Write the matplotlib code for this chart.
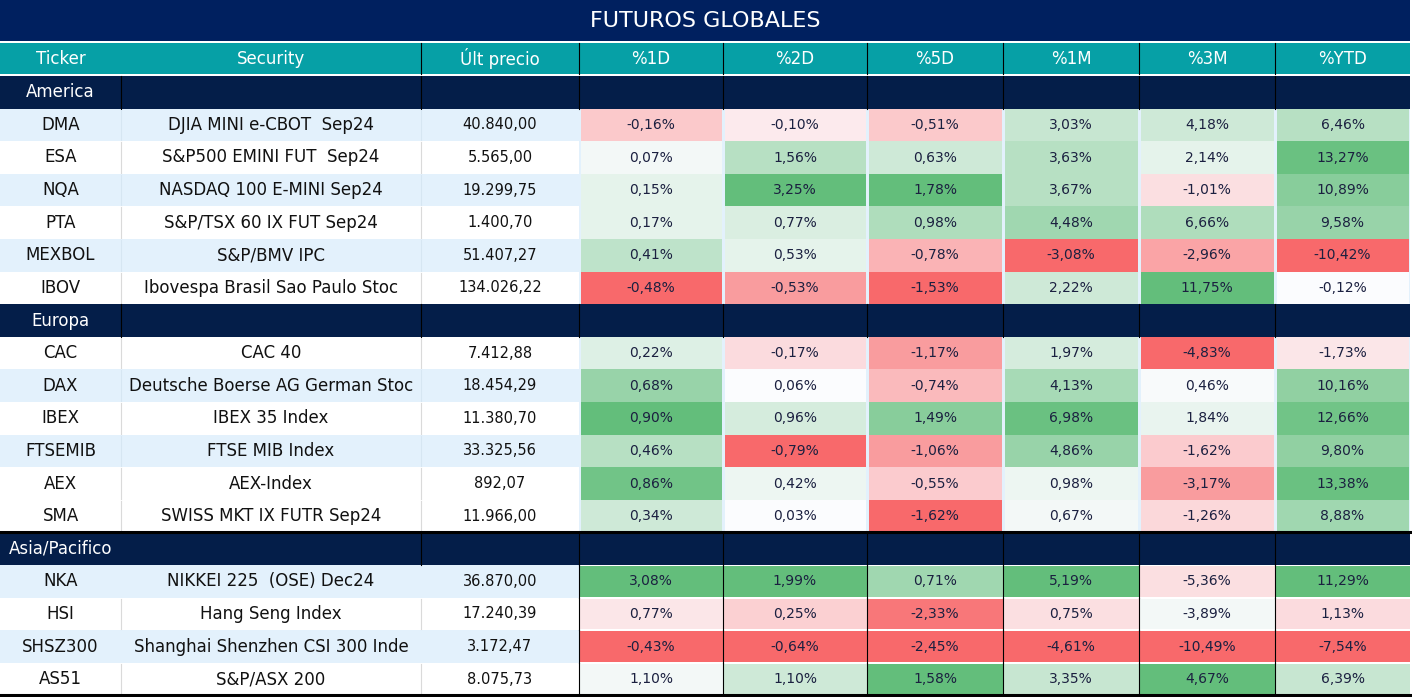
import matplotlib.pyplot as plt
from matplotlib.patches import Rectangle
from matplotlib.colors import LinearSegmentedColormap

# data
title = "FUTUROS GLOBALES"
headers = ["Ticker", "Security", "Últ precio", "%1D", "%2D", "%5D", "%1M", "%3M", "%YTD"]
regions = ["America", "Europa", "Asia/Pacifico"]
region_sizes = [6, 6, 4]
tickers = ["DMA", "ESA", "NQA", "PTA", "MEXBOL", "IBOV",
           "CAC", "DAX", "IBEX", "FTSEMIB", "AEX", "SMA",
           "NKA", "HSI", "SHSZ300", "AS51"]
securities = ["DJIA MINI e-CBOT  Sep24", "S&P500 EMINI FUT  Sep24", "NASDAQ 100 E-MINI Sep24",
              "S&P/TSX 60 IX FUT Sep24", "S&P/BMV IPC", "Ibovespa Brasil Sao Paulo Stoc",
              "CAC 40", "Deutsche Boerse AG German Stoc", "IBEX 35 Index", "FTSE MIB Index",
              "AEX-Index", "SWISS MKT IX FUTR Sep24",
              "NIKKEI 225  (OSE) Dec24", "Hang Seng Index", "Shanghai Shenzhen CSI 300 Inde",
              "S&P/ASX 200"]
prices = [40840.00, 5565.00, 19299.75, 1400.70, 51407.27, 134026.22,
          7412.88, 18454.29, 11380.70, 33325.56, 892.07, 11966.00,
          36870.00, 17240.39, 3172.47, 8075.73]
pct_1d = [-0.16, 0.07, 0.15, 0.17, 0.41, -0.48, 0.22, 0.68, 0.90, 0.46, 0.86, 0.34, 3.08, 0.77, -0.43, 1.10]
pct_2d = [-0.10, 1.56, 3.25, 0.77, 0.53, -0.53, -0.17, 0.06, 0.96, -0.79, 0.42, 0.03, 1.99, 0.25, -0.64, 1.10]
pct_5d = [-0.51, 0.63, 1.78, 0.98, -0.78, -1.53, -1.17, -0.74, 1.49, -1.06, -0.55, -1.62, 0.71, -2.33, -2.45, 1.58]
pct_1m = [3.03, 3.63, 3.67, 4.48, -3.08, 2.22, 1.97, 4.13, 6.98, 4.86, 0.98, 0.67, 5.19, 0.75, -4.61, 3.35]
pct_3m = [4.18, 2.14, -1.01, 6.66, -2.96, 11.75, -4.83, 0.46, 1.84, -1.62, -3.17, -1.26, -5.36, -3.89, -10.49, 4.67]
pct_ytd = [6.46, 13.27, 10.89, 9.58, -10.42, -0.12, -1.73, 10.16, 12.66, 9.80, 13.38, 8.88, 11.29, 1.13, -7.54, 6.39]
pct_cols = [pct_1d, pct_2d, pct_5d, pct_1m, pct_3m, pct_ytd]

# style: heat-map shade of each cell as shown (-1 red .. 0 white .. 1 green)
shade = [
    [-0.35, -0.12, -0.35, 0.35, 0.30, 0.45],
    [0.06, 0.45, 0.30, 0.45, 0.15, 0.95],
    [0.15, 1.00, 1.00, 0.45, -0.20, 0.75],
    [0.15, 0.22, 0.50, 0.60, 0.50, 0.65],
    [0.40, 0.15, -0.50, -1.00, -0.60, -1.00],
    [-1.00, -0.65, -1.00, 0.30, 1.00, 0.00],
    [0.20, -0.22, -0.65, 0.25, -1.00, -0.15],
    [0.65, 0.00, -0.45, 0.55, 0.03, 0.70],
    [1.00, 0.25, 0.75, 0.95, 0.12, 0.90],
    [0.45, -1.00, -0.65, 0.65, -0.33, 0.70],
    [0.90, 0.10, -0.33, 0.10, -0.65, 0.95],
    [0.30, 0.00, -1.00, 0.06, -0.25, 0.60],
    [1.00, 1.00, 0.60, 1.00, -0.20, 1.00],
    [-0.15, -0.30, -0.90, -0.20, 0.06, -0.22],
    [-1.00, -1.00, -1.00, -1.00, -1.00, -1.00],
    [0.06, 0.30, 1.00, 0.35, 1.00, 0.35],
]
blue_rows = [True, False, True, False, True, False,
             False, True, False, True, False, False,
             True, False, True, False]

heat = LinearSegmentedColormap.from_list("heat", ["#F8696B", "#FCFCFF", "#63BE7B"])
navy_title = "#00205F"
navy_sec = "#041E49"
teal = "#06A0A6"
light_blue = "#E3F1FC"
txt = "#1B2040"

edges = [0, 121, 421, 579, 723, 867, 1003, 1139, 1275, 1410]
W, H = 1412, 697
rh = 32.6
y_start = 76

def fmt_pct(v):
    return f"{v:.2f}".replace(".", ",") + "%"

def fmt_price(v):
    return f"{v:,.2f}".replace(",", "X").replace(".", ",").replace("X", ".")

fig = plt.figure(figsize=(W / 100, H / 100), dpi=100)
ax = fig.add_axes([0, 0, 1, 1])
ax.set_xlim(0, W)
ax.set_ylim(H, 0)
ax.axis("off")

# title + header
ax.add_patch(Rectangle((0, 0), edges[-1], 41, color=navy_title, lw=0))
ax.text(edges[-1] / 2, 21, title, color="white", fontsize=16, ha="center", va="center")
ax.add_patch(Rectangle((0, 43), edges[-1], 31, color=teal, lw=0))
for j, h in enumerate(headers):
    ax.text((edges[j] + edges[j + 1]) / 2, 58.5, h, color="white", fontsize=12, ha="center", va="center")
for x in edges[2:-1]:
    ax.plot([x, x], [43, 74], color="black", lw=0.8)

y = y_start
i = 0
for r, name in enumerate(regions):
    ax.add_patch(Rectangle((0, y), edges[-1], rh, color=navy_sec, lw=0))
    ax.text((edges[0] + edges[1]) / 2, y + rh / 2, name, color="white", fontsize=12, ha="center", va="center")
    seps = edges[2:-1] if r == 2 else edges[1:-1]
    for x in seps:
        ax.plot([x, x], [y, y + rh], color="black", lw=0.8)
    if r == 2:
        ax.plot([0, edges[-1]], [y, y], color="black", lw=2.2)
    y += rh
    asia = r == 2
    for k in range(region_sizes[r]):
        bg = light_blue if blue_rows[i] else "white"
        ax.add_patch(Rectangle((0, y), edges[3], rh, color=bg, lw=0))
        if not (asia and blue_rows[i]):
            sep = "#D6E6F2" if blue_rows[i] else "#DADADA"
            for x in edges[1:3]:
                ax.plot([x, x], [y + 1, y + rh - 1], color=sep, lw=0.8)
        ax.text((edges[0] + edges[1]) / 2, y + rh / 2, tickers[i], color="#111111", fontsize=12, ha="center", va="center")
        ax.text((edges[1] + edges[2]) / 2, y + rh / 2, securities[i], color="#111111", fontsize=12, ha="center", va="center")
        ax.text((edges[2] + edges[3]) / 2, y + rh / 2, fmt_price(prices[i]), color="#111111", fontsize=10.5, ha="center", va="center")
        if not asia:
            ax.add_patch(Rectangle((edges[3], y), edges[-1] - edges[3], rh, color=light_blue, lw=0))
        for c, col in enumerate(pct_cols):
            x0, x1 = edges[3 + c], edges[4 + c]
            fc = heat((shade[i][c] + 1) / 2)
            if asia:
                ax.add_patch(Rectangle((x0, y + 1), x1 - x0, rh - 2, color=fc, lw=0))
            else:
                ax.add_patch(Rectangle((x0 + 1.5, y), x1 - x0 - 3, rh, color=fc, lw=0))
            ax.text((x0 + x1) / 2, y + rh / 2, fmt_pct(col[i]), color=txt, fontsize=10, ha="center", va="center")
        if asia:
            for x in edges[3:-1]:
                ax.plot([x, x], [y, y + rh], color="black", lw=0.8)
        y += rh
        i += 1

ax.plot([0, edges[-1]], [y, y], color="black", lw=2.2)

fig.savefig("out.png", dpi=100)
